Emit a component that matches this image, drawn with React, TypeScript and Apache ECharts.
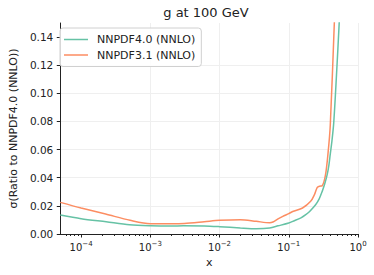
import React, { useEffect, useRef } from "react";
import * as echarts from "echarts";

const titleText = "g at 100 GeV";
const xName = "x";
const yName = "σ(Ratio to NNPDF4.0 (NNLO))";
const seriesNames = ["NNPDF4.0 (NNLO)", "NNPDF3.1 (NNLO)"];
const colors = ["#66c2a5", "#fc8d62"];

const xMajor = [1e-4, 1e-3, 1e-2, 1e-1, 1];
const xMinor = [
  6e-5, 7e-5, 8e-5, 9e-5,
  2e-4, 3e-4, 4e-4, 5e-4, 6e-4, 7e-4, 8e-4, 9e-4,
  2e-3, 3e-3, 4e-3, 5e-3, 6e-3, 7e-3, 8e-3, 9e-3,
  2e-2, 3e-2, 4e-2, 5e-2, 6e-2, 7e-2, 8e-2, 9e-2,
  0.2, 0.3, 0.4, 0.5, 0.6, 0.7, 0.8, 0.9,
];
const yTicks = [0, 0.02, 0.04, 0.06, 0.08, 0.1, 0.12, 0.14];

const x40 = [5e-5, 1e-4, 2.3e-4, 5e-4, 1e-3, 2e-3, 3e-3, 6e-3, 1e-2, 2e-2, 3.4e-2, 5.3e-2, 7e-2, 0.1, 0.114, 0.15, 0.176, 0.2, 0.244, 0.275, 0.304, 0.33, 0.358, 0.38, 0.398, 0.42, 0.446, 0.489, 0.535, 0.56];
const y40 = [0.0135, 0.0109, 0.0087, 0.0066, 0.0059, 0.0057, 0.0058, 0.0057, 0.0052, 0.0043, 0.0038, 0.0043, 0.0058, 0.0078, 0.009, 0.0115, 0.0137, 0.016, 0.0208, 0.025, 0.0303, 0.0355, 0.042, 0.049, 0.057, 0.066, 0.079, 0.113, 0.15, 0.172];

const x31 = [5e-5, 1e-4, 2.26e-4, 5.1e-4, 1e-3, 2e-3, 3.1e-3, 6e-3, 1e-2, 2e-2, 3.4e-2, 5.3e-2, 0.059, 0.07, 0.082, 0.1, 0.114, 0.158, 0.207, 0.235, 0.258, 0.28, 0.304, 0.339, 0.37, 0.398, 0.455, 0.48];
const y31 = [0.0225, 0.0185, 0.0142, 0.0097, 0.0073, 0.0073, 0.0075, 0.0087, 0.0097, 0.0102, 0.009, 0.008, 0.0085, 0.0107, 0.0125, 0.0145, 0.016, 0.0185, 0.0232, 0.028, 0.0331, 0.034, 0.0343, 0.042, 0.058, 0.0777, 0.15, 0.18];

const FONT = "DejaVu Sans";

function supLabel(v: number): string {
  const e = Math.round(Math.log10(v));
  const s = e < 0 ? "\u2212" + Math.abs(e) : String(e);
  return "{b|10}{s|" + s + "}";
}

export default function App() {
  const ref = useRef<HTMLDivElement>(null);
  useEffect(() => {
    if (!ref.current) return;
    const chart = echarts.init(ref.current, null, { renderer: "svg" });
    const axisColor = "#222";
    chart.setOption({
      animation: false,
      backgroundColor: "#fff",
      textStyle: { fontFamily: FONT },
      graphic: [
        {
          type: "text",
          x: 206,
          y: 12,
          style: {
            text: titleText,
            fontFamily: FONT,
            fontSize: 13,
            fill: "#222",
            textAlign: "center",
            textVerticalAlign: "middle",
          },
        },
      ],
      legend: {
        orient: "vertical",
        left: 60,
        top: 28,
        icon: "rect",
        itemWidth: 24,
        itemHeight: 1.5,
        itemGap: 2.5,
        padding: [5, 6, 5, 4],
        borderColor: "#d0d0d0",
        borderWidth: 1,
        borderRadius: 3,
        backgroundColor: "rgba(255,255,255,0.85)",
        textStyle: { fontFamily: FONT, fontSize: 11, color: "#222", padding: [0, 0, 0, 4], lineHeight: 13 },
        data: seriesNames,
      },
      grid: { left: 54, right: 16, top: 23, bottom: 41, containLabel: false },
      xAxis: [
        {
          type: "log",
          logBase: 10,
          min: 5e-5,
          max: 1,
          name: xName,
          nameLocation: "middle",
          nameGap: 21,
          nameTextStyle: { fontFamily: FONT, fontSize: 11, color: "#222", verticalAlign: "top" },
          axisLine: { show: true, lineStyle: { color: axisColor, width: 1 } },
          axisTick: { show: true, length: 3.5, lineStyle: { color: axisColor }, customValues: xMajor },
          axisLabel: {
            customValues: xMajor,
            margin: 6,
            formatter: (v: number) => supLabel(v),
            rich: {
              b: { fontFamily: FONT, fontSize: 10, color: "#222", verticalAlign: "bottom", lineHeight: 12 },
              s: { fontFamily: FONT, fontSize: 7, color: "#222", verticalAlign: "top", padding: [0, 0, 5, 0], lineHeight: 12 },
            },
          },
          splitLine: { show: true, showMinLine: false, lineStyle: { color: "#efefef", width: 1 } },
        },
        {
          type: "log",
          logBase: 10,
          min: 5e-5,
          max: 1,
          position: "bottom",
          axisLine: { show: false },
          axisTick: { show: true, length: 2, lineStyle: { color: axisColor }, customValues: xMinor },
          axisLabel: { show: false },
          splitLine: { show: false },
        },
      ],
      yAxis: {
        type: "value",
        min: 0,
        max: 0.15,
        interval: 0.02,
        name: yName,
        nameLocation: "middle",
        nameGap: 37,
        nameRotate: 90,
        nameTextStyle: { fontFamily: FONT, fontSize: 11, color: "#222" },
        axisLine: { show: true, lineStyle: { color: axisColor, width: 1 } },
        axisTick: { show: true, length: 3.5, lineStyle: { color: axisColor }, customValues: yTicks },
        axisLabel: {
          customValues: yTicks,
          margin: 7,
          fontFamily: FONT,
          fontSize: 10.5,
          color: "#222",
          formatter: (v: number) => v.toFixed(2),
        },
        splitLine: { show: true, showMaxLine: false, showMinLine: false, lineStyle: { color: "#efefef", width: 1 } },
      },
      series: [
        {
          name: seriesNames[0],
          type: "line",
          xAxisIndex: 0,
          data: x40.map((x, i) => [x, y40[i]]),
          symbol: "none",
          smooth: 0.3,
          clip: true,
          lineStyle: { color: colors[0], width: 1.5 },
          itemStyle: { color: colors[0] },
          z: 3,
        },
        {
          name: seriesNames[1],
          type: "line",
          xAxisIndex: 0,
          data: x31.map((x, i) => [x, y31[i]]),
          symbol: "none",
          smooth: 0.3,
          clip: true,
          lineStyle: { color: colors[1], width: 1.5 },
          itemStyle: { color: colors[1] },
          z: 2,
        },
      ],
    });
    return () => chart.dispose();
  }, []);
  return <div ref={ref} style={{ width: 374, height: 275, position: "absolute", left: 0, top: 0 }} />;
}
